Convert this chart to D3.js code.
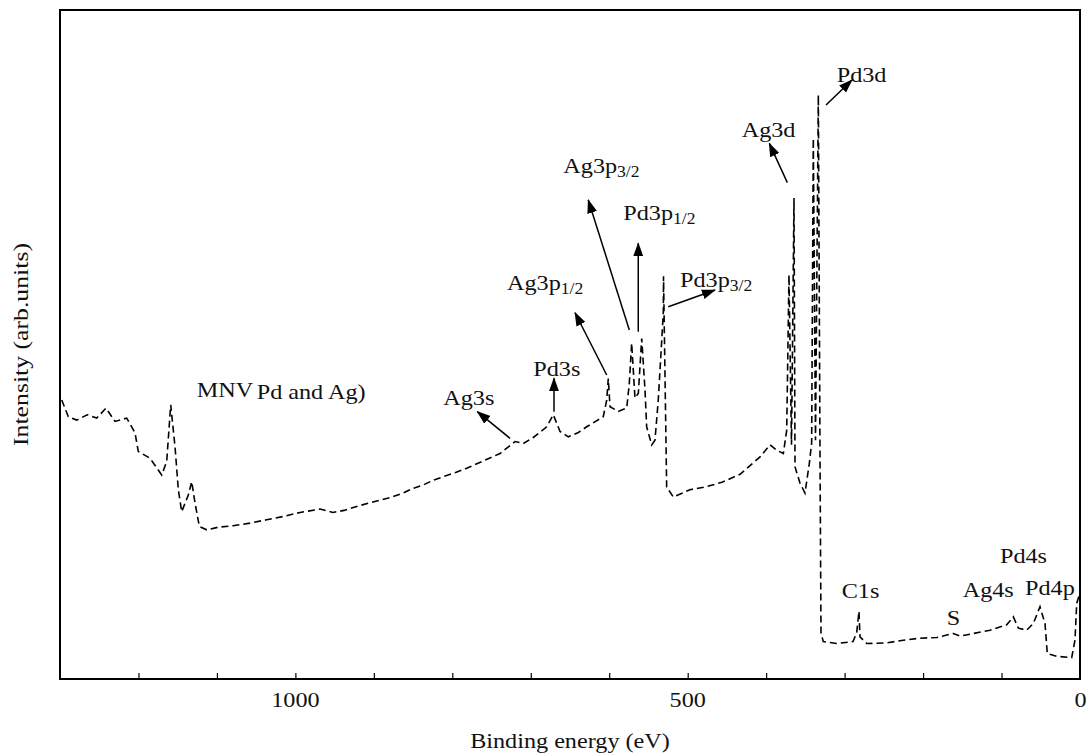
<!DOCTYPE html>
<html>
<head>
<meta charset="utf-8">
<script src="https://cdn.jsdelivr.net/npm/d3@7"></script>
<style>
  html, body { margin: 0; padding: 0; background: #fff; }
  svg { display: block; }
  text { font-family: "Liberation Serif", "Times New Roman", serif; fill: #111; }
</style>
</head>
<body>
<svg id="chart" width="1090" height="756"></svg>
<script>
// XPS survey spectrum of a Pd-Ag sample (binding energy in eV, intensity in arbitrary units)
const energy = [
  1297.8, 1289.4, 1278.7, 1265.2, 1253.2, 1241.4, 1229.9, 1215.0, 1204.4, 1200.2,
  1185.3, 1170.4, 1164.0, 1158.9, 1153.4, 1149.2, 1144.9, 1136.5, 1132.1, 1127.9,
  1122.4, 1113.0, 1098.0, 1079.5, 1058.0, 1036.6, 1015.0, 994.1, 968.6, 952.1,
  938.0, 921.9, 900.0, 880.0, 862.5, 850.0, 837.0, 824.6, 810.0, 795.0,
  781.7, 768.0, 755.0, 739.2, 720.1, 709.5, 696.8, 679.7, 671.3, 662.7,
  652.2, 640.0, 628.7, 607.6, 603.2, 601.2, 599.0, 588.4, 577.7, 574.4,
  571.4, 567.2, 562.9, 558.6, 554.4, 552.3, 545.9, 541.7, 537.5, 531.1,
  530.8, 526.8, 518.3, 497.1, 477.9, 456.3, 433.3, 407.8, 395.1, 386.6,
  378.1, 373.8, 370.9, 367.7, 364.5, 363.2, 356.9, 350.5, 345.0, 342.0,
  339.9, 337.1, 333.5, 331.4, 330.1, 327.2, 310.1, 289.3, 284.6, 281.7,
  280.4, 271.8, 246.4, 225.2, 203.9, 182.6, 161.5, 152.9, 136.0, 114.7,
  93.4, 85.0, 78.6, 67.9, 59.5, 51.0, 44.6, 41.7, 29.7, 10.6,
  6.4, 4.2, 1.3
];
const intensity = [
  417, 392, 387, 395, 390, 405, 385, 390, 368, 340,
  330, 305, 325, 410, 347, 283, 250, 275, 295, 263,
  228, 223, 227, 229, 233, 238, 243, 249, 254, 249,
  252, 258, 265, 271, 278, 285, 290, 297, 303, 309,
  315, 322, 329, 337, 355, 352, 361, 377, 395, 370,
  362, 368, 377, 392, 417, 449, 407, 400, 405, 442,
  502, 420, 427, 509, 432, 377, 350, 357, 417, 547,
  602, 287, 272, 283, 287, 294, 306, 332, 350, 342,
  337, 372, 604, 350, 719, 317, 293, 278, 322, 353,
  808, 357, 873, 342, 69, 56, 53, 56, 69, 101,
  63, 53, 54, 58, 61, 62, 68, 64, 68, 73,
  81, 93, 76, 73, 83, 108, 83, 38, 34, 32,
  58, 113, 124
];

// Axis ticks
const labelTicks = [1000, 500, 0];
const minorTicks = [1200, 1100, 1000, 900, 800, 700, 600, 500, 400, 300, 200, 100];

// Peak assignments: text, optional subscript, anchor (eV, intensity)
const peakText = ["Pd3d", "Ag3d", "Ag3p", "Pd3p", "Pd3p", "Ag3p", "Pd3s", "Ag3s", "MNV", "Pd and Ag)", "C1s", "S", "Ag4s", "Pd4s", "Pd4p"];
const peakSub  = ["", "", "3/2", "1/2", "3/2", "1/2", "", "", "", "", "", "", "", "", ""];
const peakE    = [310.1, 431.2, 658.5, 582.1, 509.8, 730.3, 696.8, 811.5, 1125.8, 1049.3, 303.7, 169.9, 149.5, 102.0, 70.1];
const peakI    = [892.8, 810.6, 755.9, 686.1, 586.4, 581.5, 452.9, 409.6, 422.0, 418.5, 120.6, 80.7, 123.0, 172.9, 125.6];

// Arrows from peak to label: tail (eV, intensity) -> head (eV, intensity)
const arrowFromE = [323.7, 373.0, 574.4, 563.0, 524.7, 603.2, 670.4, 726.4];
const arrowFromI = [858.0, 741.9, 521.7, 519.1, 556.5, 454.4, 399.6, 359.8];
const arrowToE   = [290.6, 396.0, 626.7, 563.0, 465.2, 643.6, 670.4, 768.1];
const arrowToI   = [895.4, 800.7, 716.0, 651.3, 581.5, 547.5, 449.5, 399.6];

const svg = d3.select("#chart");
const plot = { left: 60, right: 1080, top: 10, bottom: 679 };

const x = d3.scaleLinear().domain([1300, 0]).range([plot.left, plot.right]);
const y = d3.scaleLinear().domain([0, 1000]).range([plot.bottom, plot.top]);

const stretch = 1.1;

// Arrowhead marker
svg.append("defs").append("marker")
  .attr("id", "head")
  .attr("markerUnits", "userSpaceOnUse")
  .attr("viewBox", "0 -6 14 12")
  .attr("refX", 13).attr("refY", 0)
  .attr("markerWidth", 14).attr("markerHeight", 12)
  .attr("orient", "auto")
  .append("path").attr("d", "M0,-5L14,0L0,5Z").attr("fill", "#000");

// Spectrum
const spectrum = energy.map((e, i) => [e, intensity[i]]);
const line = d3.line().x(d => x(d[0])).y(d => y(d[1]));
svg.append("path")
  .datum(spectrum)
  .attr("d", line)
  .attr("fill", "none")
  .attr("stroke", "#000")
  .attr("stroke-width", 1.6)
  .attr("stroke-dasharray", "7,4");

// Bottom axis with inward ticks
const xAxis = d3.axisBottom(x).tickValues(minorTicks).tickSize(-6).tickFormat("");
svg.append("g")
  .attr("transform", `translate(0,${plot.bottom})`)
  .call(xAxis)
  .call(g => g.select(".domain").remove())
  .call(g => g.selectAll(".tick line").attr("stroke", "#000").attr("stroke-width", 1.2));

svg.append("g").selectAll("text")
  .data(labelTicks)
  .join("text")
  .attr("transform", d => `translate(${x(d)},${plot.bottom + 28}) scale(${stretch},1)`)
  .attr("text-anchor", d => d === 0 ? "end" : "middle")
  .attr("dx", d => d === 0 ? 6 : 0)
  .style("font-size", "22px")
  .text(d => d);

// Frame
svg.append("rect")
  .attr("x", plot.left).attr("y", plot.top)
  .attr("width", plot.right - plot.left).attr("height", plot.bottom - plot.top)
  .attr("fill", "none").attr("stroke", "#000").attr("stroke-width", 2);

// Axis titles
svg.append("text")
  .attr("transform", `translate(${(plot.left + plot.right) / 2},748) scale(${stretch},1)`)
  .attr("text-anchor", "middle")
  .style("font-size", "22px")
  .text("Binding energy (eV)");

svg.append("text")
  .attr("transform", `translate(28,${(plot.top + plot.bottom) / 2}) rotate(-90) scale(1.17,1)`)
  .attr("text-anchor", "middle")
  .style("font-size", "22px")
  .text("Intensity (arb.units)");

// Arrows
svg.append("g").selectAll("line")
  .data(arrowFromE.map((e, i) => i))
  .join("line")
  .attr("x1", i => x(arrowFromE[i])).attr("y1", i => y(arrowFromI[i]))
  .attr("x2", i => x(arrowToE[i])).attr("y2", i => y(arrowToI[i]))
  .attr("stroke", "#000").attr("stroke-width", 1.5)
  .attr("marker-end", "url(#head)");

// Peak labels
const labels = svg.append("g").selectAll("text")
  .data(peakText.map((t, i) => i))
  .join("text")
  .attr("transform", i => `translate(${x(peakE[i])},${y(peakI[i])}) scale(${stretch},1)`)
  .style("font-size", "22px");
labels.append("tspan").text(i => peakText[i]);
labels.filter(i => peakSub[i] !== "")
  .append("tspan")
  .attr("dy", 4)
  .style("font-size", "16px")
  .text(i => peakSub[i]);
</script>
</body>
</html>
